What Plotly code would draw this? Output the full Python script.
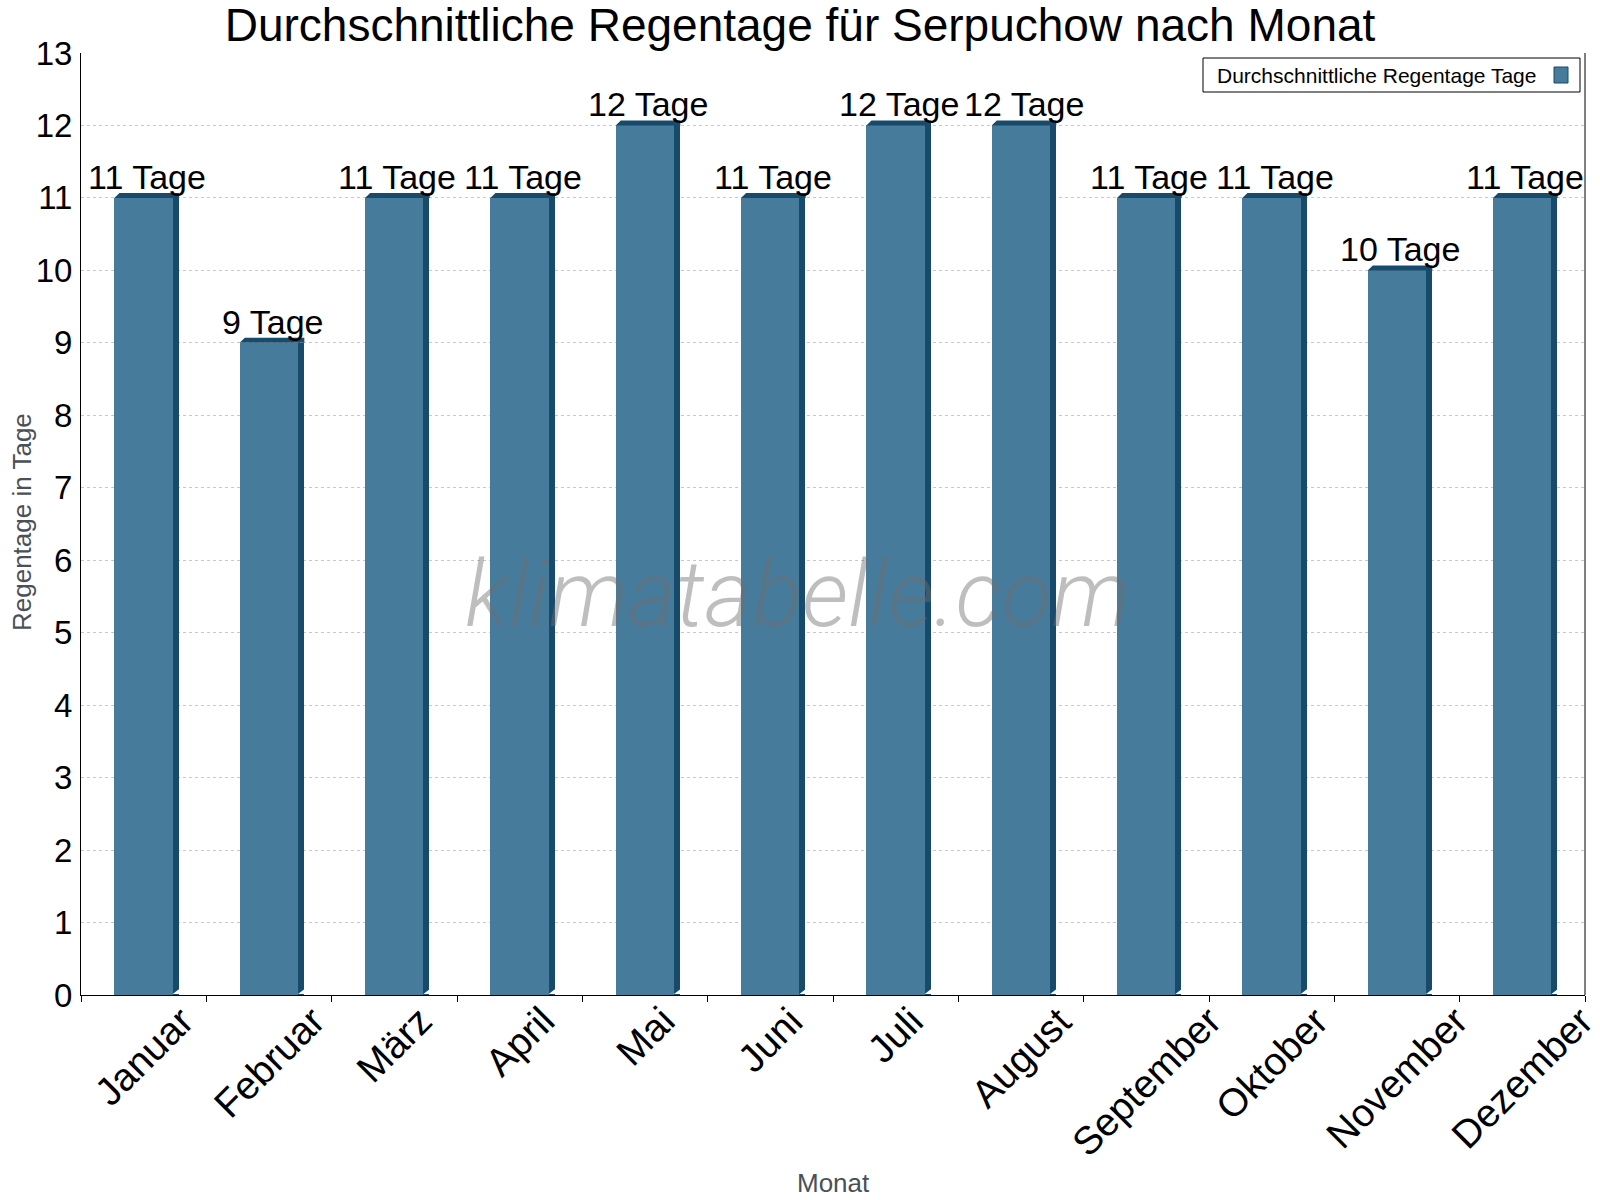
import plotly.graph_objects as go

# ---- data ----
months = ["Januar", "Februar", "März", "April", "Mai", "Juni", "Juli",
          "August", "September", "Oktober", "November", "Dezember"]
rain_days = [11, 9, 11, 11, 12, 11, 12, 12, 11, 11, 10, 11]
series_name = "Durchschnittliche Regentage Tage"
unit = "Tage"
y_ticks = list(range(0, 14))

# ---- style ----
FRONT = "#467b9c"
DARK = "#184a6b"
FONT = "Arial, Liberation Sans, sans-serif"
AXIS_TITLE_COLOR = "#4a5058"

# plot area in pixels (for paper placement helpers)
L, R, T, B = 81, 1585, 53, 995
W, H = R - L, B - T
def px(x):
    return (x - L) / W
def py(y):
    return (B - y) / H

xs = list(range(len(months)))
hw = 0.234   # half width of front face (category units)
dx = 0.048   # depth of side face
boundaries = [k - 0.5 for k in range(len(months) + 1)]
x_range = [-0.5, len(months) - 0.5]
y_range = [0, 13]

fig = go.Figure()
# front faces
fig.add_trace(go.Bar(
    x=xs, y=rain_days, width=2 * hw, marker=dict(color=FRONT, line=dict(width=0)),
    name=series_name, showlegend=False, hoverinfo="x+y"))
# side faces
fig.add_trace(go.Bar(
    x=xs, y=rain_days, width=dx, offset=hw - 0.002,
    marker=dict(color=DARK, line=dict(width=0)),
    showlegend=False, hoverinfo="skip"))

shapes = []
for i, v in zip(xs, rain_days):
    # top bevel
    path = (f"M {i-hw},0 L {i-hw+dx*0.85},5 L {i+hw+dx},5 "
            f"L {i+hw+dx},0 Z")
    shapes.append(dict(type="path", xref="x", yref="y", ysizemode="pixel",
                       yanchor=v, path=path, fillcolor=DARK,
                       line=dict(width=0), layer="above"))
    # bottom cut of side face
    cut = f"M {i+hw-0.002},1 L {i+hw+dx+0.002},1 L {i+hw+dx+0.002},6 Z"
    shapes.append(dict(type="path", xref="x", yref="y", ysizemode="pixel",
                       yanchor=0, path=cut, fillcolor="white",
                       line=dict(width=0), layer="above"))

# right border line
shapes.append(dict(type="line", xref="paper", yref="paper", x0=1, x1=1, y0=0, y1=1,
                   line=dict(color="black", width=1)))
# legend box
shapes.append(dict(type="rect", xref="paper", yref="paper",
                   x0=px(1203), x1=px(1580), y0=py(92), y1=py(58),
                   line=dict(color="black", width=1), fillcolor="white", layer="above"))
shapes.append(dict(type="rect", xref="paper", yref="paper",
                   x0=px(1554), x1=px(1568), y0=py(83), y1=py(67),
                   line=dict(color=DARK, width=1), fillcolor=FRONT, layer="above"))

annotations = []
# value labels
for i, v in zip(xs, rain_days):
    annotations.append(dict(x=i + dx / 2, y=v, xref="x", yref="y",
                            text=f"{v} {unit}", showarrow=False,
                            xanchor="center", yanchor="bottom", yshift=0,
                            font=dict(family=FONT, size=34, color="black")))
# rotated month labels
for i, m in zip(xs, months):
    annotations.append(dict(x=i, y=0, xref="x", yref="y", text=m, showarrow=False,
                            textangle=-45, xanchor="center", yanchor="top", yshift=-1,
                            font=dict(family=FONT, size=39, color="black")))
# axis titles
annotations.append(dict(x=0.5, y=py(1183), xref="paper", yref="paper", text="Monat",
                        showarrow=False, xanchor="center", yanchor="middle",
                        font=dict(family=FONT, size=26, color=AXIS_TITLE_COLOR)))
annotations.append(dict(x=px(22), y=py(522), xref="paper", yref="paper",
                        text="Regentage in Tage", textangle=-90, showarrow=False,
                        xanchor="center", yanchor="middle",
                        font=dict(family=FONT, size=26, color=AXIS_TITLE_COLOR)))
# legend text
annotations.append(dict(x=px(1215), y=py(75), xref="paper", yref="paper",
                        text=series_name, showarrow=False, xanchor="left", yanchor="middle",
                        font=dict(family=FONT, size=21, color="black")))
# watermark
annotations.append(dict(x=px(798), y=py(594), xref="paper", yref="paper",
                        text="klimatabelle.com", showarrow=False,
                        xanchor="center", yanchor="middle",
                        font=dict(family="Roboto", size=92, color="rgba(110,110,110,0.45)",
                                  style="italic", weight=300)))

fig.update_layout(
    width=1600, height=1200,
    margin=dict(l=L, r=1600 - R, t=T, b=1200 - B, autoexpand=False),
    paper_bgcolor="white", plot_bgcolor="white",
    bargap=0, barmode="overlay",
    title=dict(text="Durchschnittliche Regentage für Serpuchow nach Monat",
               x=0.5, xref="container", xanchor="center",
               y=1 - 25 / 1200, yref="container", yanchor="middle",
               font=dict(family=FONT, size=46, color="black")),
    xaxis=dict(range=x_range, showgrid=False, zeroline=False,
               showline=True, linecolor="black", linewidth=1,
               tickvals=boundaries, ticktext=[""] * len(boundaries),
               showticklabels=False,
               ticks="outside", ticklen=6, tickcolor="black"),
    xaxis2=dict(range=x_range, overlaying="x", showgrid=False, zeroline=False,
                showline=False, tickvals=boundaries, showticklabels=False,
                ticks="inside", ticklen=3, tickcolor="black"),
    yaxis=dict(range=y_range, tickvals=y_ticks, showgrid=True,
               gridcolor="#c8c8c8", griddash="dot", gridwidth=1, zeroline=False,
               showline=True, linecolor="black", linewidth=1,
               ticks="", ticklabelstandoff=1,
               tickfont=dict(family=FONT, size=33, color="black")),
    yaxis2=dict(range=y_range, overlaying="y", side="left", tickvals=y_ticks,
                showgrid=False, zeroline=False, showline=False,
                showticklabels=False, ticks="outside", ticklen=5, tickcolor="black"),
    shapes=shapes, annotations=annotations, showlegend=False,
)

fig.write_html("out.html")
